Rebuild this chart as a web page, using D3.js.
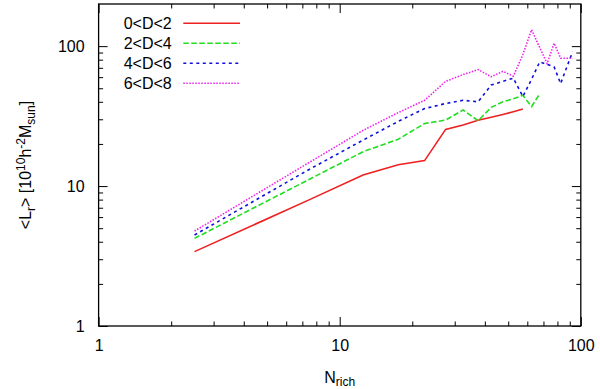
<!DOCTYPE html>
<html>
<head>
<meta charset="utf-8">
<script src="https://cdn.jsdelivr.net/npm/d3@7"></script>
<style>
  body { margin: 0; background: #fff; }
  svg { display: block; font-family: "Liberation Sans", Arial, sans-serif; }
</style>
</head>
<body>
<svg id="chart" width="600" height="389"></svg>
<script>
// Richness bin centres
const nRich = [2.5, 7.5, 12.5, 17.5, 22.5, 27.5, 32.5, 37.5, 42.5, 47.5,
               52.5, 57.5, 62.5, 67.5, 72.5, 77.5, 82.5, 87.5, 92.5];

// Mean luminosity per distance bin
const d02 = [3.4, 8.0, 12.0, 14.2, 15.2, 25.4, 27.3, 29.5, 31, 32.5, 34, 35.5];
const d24 = [4.23, 11.2, 17.6, 21.6, 28, 29.6, 35, 29.3, 36.5, 40, 42, 44.5, 37, 45.5];
const d46 = [4.47, 13.2, 21.3, 29, 35.8, 38.9, 41, 40, 52.7, 56, 59, 43.6, 58, 77, 74, 71, 54, 71, 91];
const d68 = [4.77, 14.8, 25, 33.5, 41, 56, 62.6, 68, 60.4, 66, 61, 87, 131, 98, 75, 105, 82, 82, 82];

const seriesLabels = ["0<D<2", "2<D<4", "4<D<6", "6<D<8"];

const xMajor = [1, 10, 100];
const xMinor = [2, 3, 4, 5, 6, 7, 8, 9, 20, 30, 40, 50, 60, 70, 80, 90];
const yMajor = [1, 10, 100];
const yMinor = [2, 3, 4, 5, 6, 7, 8, 9, 20, 30, 40, 50, 60, 70, 80, 90];

const palette = ["#ee2020", "#22dd22", "#1010dd", "#ee22ee"];
const dashes  = [null, "5.5,2.5", "3,3.5", "1.5,1.5"];

const margin = { top: 4, right: 19.2, bottom: 63, left: 98.6 };
const W = 600, H = 389;
const width  = W - margin.left - margin.right;
const height = H - margin.top - margin.bottom;

const svg = d3.select("#chart");
const g = svg.append("g")
  .attr("transform", `translate(${margin.left},${margin.top})`);

const x = d3.scaleLog().domain([1, 100]).range([0, width]);
const y = d3.scaleLog().domain([1, 200]).range([height, 0]);

// ticks: inward on all four sides
function addAxis(axisFn, scale, values, size, transform, labels) {
  const ax = g.append("g")
    .attr("transform", transform)
    .call(axisFn(scale).tickValues(values).tickSizeInner(-size).tickSizeOuter(0)
      .tickPadding(labels ? 14 : 0)
      .tickFormat(labels ? d3.format("d") : ""));
  ax.select(".domain").remove();
  ax.selectAll("line").attr("stroke", "#000").attr("stroke-width", 1);
  ax.selectAll("text").attr("fill", "#000").style("font-size", "16px");
  return ax;
}

addAxis(d3.axisBottom, x, xMajor, 9, `translate(0,${height})`, true);
addAxis(d3.axisBottom, x, xMinor, 4.5, `translate(0,${height})`, false);
addAxis(d3.axisTop, x, xMajor, -9, "translate(0,0)", false)
  .selectAll("line").attr("y2", 9);
addAxis(d3.axisTop, x, xMinor, -4.5, "translate(0,0)", false)
  .selectAll("line").attr("y2", 4.5);
addAxis(d3.axisLeft, y, yMajor, 9, "translate(0,0)", true);
addAxis(d3.axisLeft, y, yMinor, 4.5, "translate(0,0)", false);
addAxis(d3.axisRight, y, yMajor, -9, `translate(${width},0)`, false)
  .selectAll("line").attr("x2", -9);
addAxis(d3.axisRight, y, yMinor, -4.5, `translate(${width},0)`, false)
  .selectAll("line").attr("x2", -4.5);

// frame
g.append("rect")
  .attr("width", width).attr("height", height)
  .attr("fill", "none").attr("stroke", "#000").attr("stroke-width", 1.3);

// lines
const line = d3.line()
  .x((d, i) => x(nRich[i]))
  .y(d => y(d));

[d02, d24, d46, d68].forEach((s, i) => {
  g.append("path")
    .datum(s)
    .attr("fill", "none")
    .attr("stroke", palette[i])
    .attr("stroke-width", 1.6)
    .attr("stroke-dasharray", dashes[i])
    .attr("d", line);
});

// legend
const legend = svg.append("g");
seriesLabels.forEach((lab, i) => {
  const cy = 23.3 + i * 20;
  legend.append("text")
    .attr("x", 171.7).attr("y", cy + 6)
    .attr("text-anchor", "end")
    .style("font-size", "16px")
    .text(lab);
  legend.append("line")
    .attr("x1", 183.3).attr("x2", 240)
    .attr("y1", cy).attr("y2", cy)
    .attr("stroke", palette[i])
    .attr("stroke-width", 1.6)
    .attr("stroke-dasharray", dashes[i]);
});

// axis titles
const xt = svg.append("text")
  .attr("x", margin.left + x(10)).attr("y", 383)
  .attr("text-anchor", "middle")
  .style("font-size", "16px");
xt.append("tspan").text("N");
xt.append("tspan").attr("dy", 3).style("font-size", "12px").text("rich");

const yt = svg.append("text")
  .attr("transform", `translate(31,${margin.top + height / 2}) rotate(-90)`)
  .attr("text-anchor", "middle")
  .style("font-size", "16px");
yt.append("tspan").text("<L");
yt.append("tspan").attr("dy", 4).style("font-size", "12px").text("r");
yt.append("tspan").attr("dy", -4).text("> [10");
yt.append("tspan").attr("dy", -6).style("font-size", "12px").text("10");
yt.append("tspan").attr("dy", 6).text("h");
yt.append("tspan").attr("dy", -6).style("font-size", "12px").text("-2");
yt.append("tspan").attr("dy", 6).text("M");
yt.append("tspan").attr("dy", 4).style("font-size", "12px").text("sun");
yt.append("tspan").attr("dy", -4).text("]");
</script>
</body>
</html>
